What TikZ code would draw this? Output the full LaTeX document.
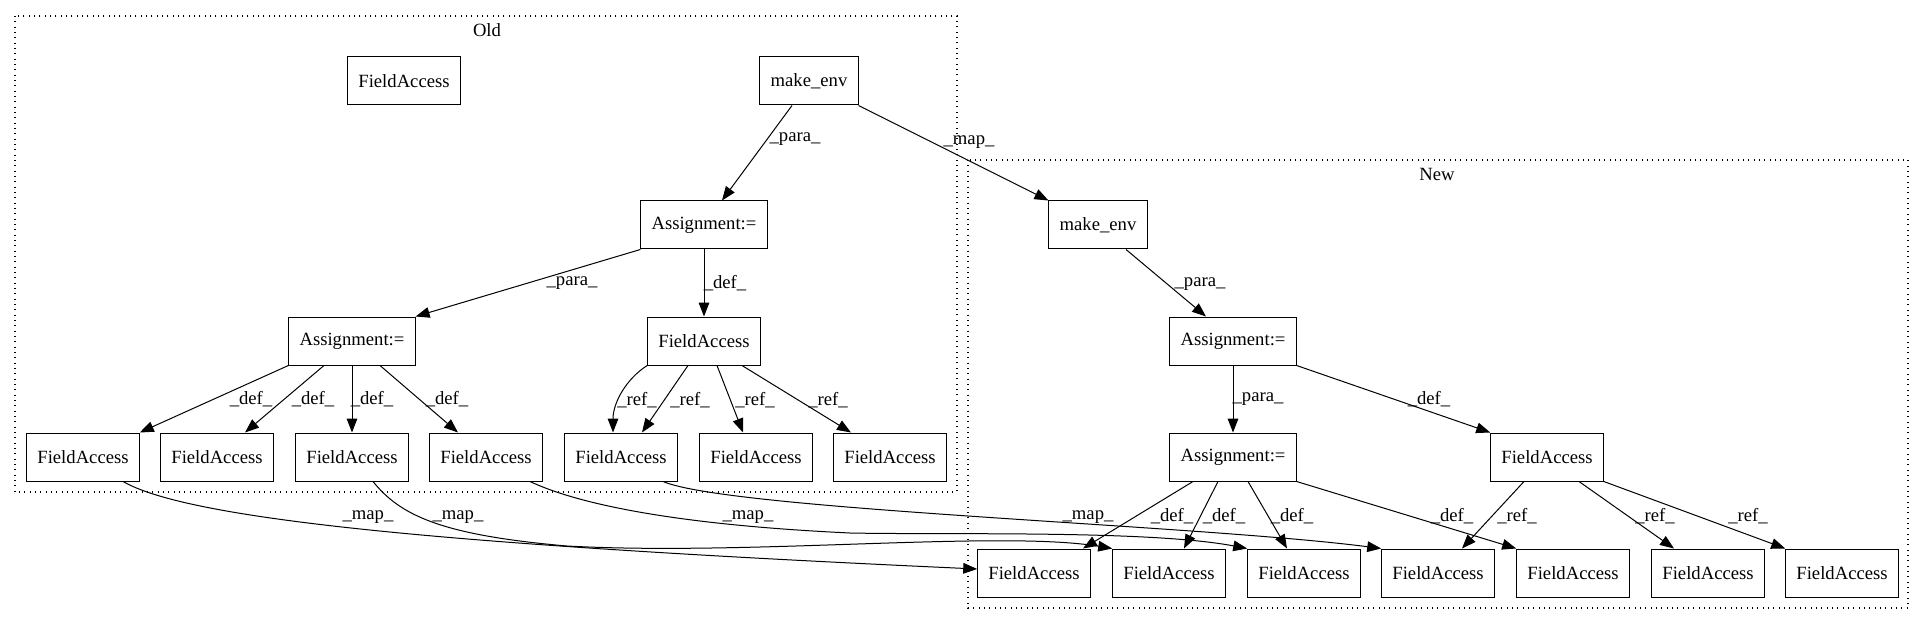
\documentclass[tikz,border=0pt]{standalone}
\usepackage{fontspec}
\setmainfont{Liberation Serif}
\usetikzlibrary{calc,arrows.meta}

\tikzset{
  box/.style={draw, line width=0.75pt, minimum height=36pt, minimum width=54pt, inner xsep=8pt, font=\fontsize{14}{16}\selectfont},
  lbl/.style={inner sep=0pt, font=\fontsize{14}{16}\selectfont},
  edge/.style={line width=0.75pt, -{Triangle[length=10.5pt,width=8pt]}},
  cluster/.style={line width=0.8pt, dash pattern=on 0.8pt off 3.2pt},
}

\begin{document}
\begin{tikzpicture}[x=0.75pt, y=-0.75pt]
			\useasboundingbox (0,0) rectangle (1925,624);
			%%%%% CLUSTERS %%%%%
			\draw[cluster] (15,16) rectangle (957,492);
			\node[lbl] (old) at (487,30) {Old};
			\draw[cluster] (968,160) rectangle (1908,608);
			\node[lbl] (new) at (1437,174) {New};
			
			%%%%% OLD %%%%%
			\node[box] (ofa0) at (404,81) {FieldAccess};
			\node[box] (omake) at (809,81) {make\_env};
			\node[box] (oasg1) at (704,225) {Assignment:=};
			\node[box] (oasg2) at (352,341) {Assignment:=};
			\node[box] (ofa) at (704,341) {FieldAccess};
			\foreach \i/\x in {1/83,2/217,3/352,4/486,5/621,6/756,7/890}
				\node[box] (ofa\i) at (\x,457) {FieldAccess};
			
			%%%%% NEW %%%%%
			\node[box] (nmake) at (1098,225) {make\_env};
			\node[box] (nasg1) at (1233,341) {Assignment:=};
			\node[box] (nasg2) at (1233,457) {Assignment:=};
			\node[box] (nfa) at (1547,457) {FieldAccess};
			\foreach \i/\x in {1/1034,2/1169,3/1304,4/1438,5/1573,6/1708,7/1842}
				\node[box] (nfa\i) at (\x,573) {FieldAccess};
			
			%%%%% EDGES OLD %%%%%
			\draw[edge] ($(omake.south)+(-17,0)$) -- ($(oasg1.north)+(18,0)$);
			\draw[edge] (omake.south east) -- (nmake.north west);
			\draw[edge] (oasg1.south west) -- (oasg2.north east);
			\draw[edge] (oasg1) -- (ofa);
			\draw[edge] (oasg2.south west) -- (ofa1.north east);
			\draw[edge] ($(oasg2.south)+(-28,0)$) -- ($(ofa2.north)+(28,0)$);
			\draw[edge] (oasg2) -- (ofa3);
			\draw[edge] ($(oasg2.south)+(28,0)$) -- ($(ofa4.north)+(-28,0)$);
			\draw[edge] (ofa.south west) .. controls (626,379) and (613,403) .. ($(ofa5.north)+(-8,0)$);
			\draw[edge] ($(ofa.south)+(-16,0)$) -- ($(ofa5.north)+(21,0)$);
			\draw[edge] ($(ofa.south)+(13,0)$) -- ($(ofa6.north)+(-13,0)$);
			\draw[edge] ($(ofa.south)+(38,0)$) -- ($(ofa7.north)+(-39,0)$);
			
			%%%%% EDGES NEW %%%%%
			\draw[edge] ($(nmake.south)+(28,0)$) -- ($(nasg1.north)+(-27,0)$);
			\draw[edge] (nasg1) -- (nasg2);
			\draw[edge] (nasg1.south east) -- (nfa.north west);
			\draw[edge] ($(nasg2.south)+(-40,0)$) -- ($(nfa1.north)+(49,0)$);
			\draw[edge] ($(nasg2.south)+(-15,0)$) -- ($(nfa2.north)+(15,0)$);
			\draw[edge] ($(nasg2.south)+(15,0)$) -- ($(nfa3.north)+(-17,0)$);
			\draw[edge] (nasg2.south east) -- (nfa5.north west);
			\draw[edge] ($(nfa.south)+(-23,0)$) -- ($(nfa4.north)+(24,0)$);
			\draw[edge] ($(nfa.south)+(32,0)$) -- ($(nfa6.north)+(-34,0)$);
			\draw[edge] (nfa.south east) -- (nfa7.north west);
			
			%%%%% MAP %%%%%
			\draw[edge] ($(ofa1.south)+(40,0)$) .. controls (190,520) and (450,545) .. ($(nfa1.west)+(0,-4)$);
			\draw[edge] ($(ofa3.south)+(21,0)$) .. controls (400,515) and (440,535) .. (567,546)
				.. controls (750,556) and (1000,530) .. (nfa2.north west);
			\draw[edge] ($(ofa4.south)+(44,0)$) .. controls (580,505) and (680,525) .. (850,533)
				.. controls (950,535) and (1150,530) .. (nfa3.north west);
			\draw[edge] ($(ofa5.south)+(42,0)$) .. controls (730,510) and (1200,525) .. (nfa4.north west);
			
			%%%%% LABELS %%%%%
			\node[lbl] (l1) at (795,139) {\_para\_};
			\node[lbl] (l2) at (969,142) {\_map\_};
			\node[lbl] (l3) at (572,283) {\_para\_};
			\node[lbl] (l4) at (725,283) {\_def\_};
			\foreach \n/\x in {5/251,6/313,7/372,8/447}
				\node[lbl] (l\n) at (\x,399) {\_def\_};
			\foreach \n/\x in {9/637,10/690,11/755,12/828}
				\node[lbl] (l\n) at (\x,400) {\_ref\_};
			\foreach \n/\x in {13/368,14/458,15/748,16/1088}
				\node[lbl] (l\n) at (\x,517) {\_map\_};
			\node[lbl] (l17) at (1200,284) {\_para\_};
			\node[lbl] (l18) at (1258,399) {\_para\_};
			\node[lbl] (l19) at (1429,399) {\_def\_};
			\foreach \n/\x in {20/1172,21/1224,22/1292,23/1452}
				\node[lbl] (l\n) at (\x,516) {\_def\_};
			\foreach \n/\x in {24/1517,25/1655,26/1748}
				\node[lbl] (l\n) at (\x,516) {\_ref\_};
		\end{tikzpicture}
\end{document}
